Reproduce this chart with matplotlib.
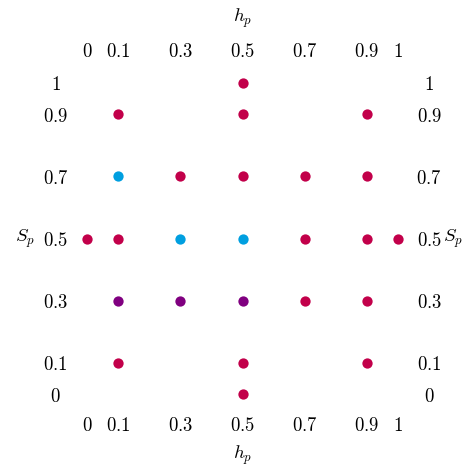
import matplotlib
matplotlib.use('Agg')
import matplotlib.pyplot as plt

plt.rcParams['mathtext.fontset'] = 'cm'

# grid points (h_p, S_p) grouped by colour
red_h = [0.5, 0.1, 0.5, 0.9, 0.3, 0.5, 0.7, 0.9, 0.0, 0.1, 0.7, 0.9, 1.0, 0.7, 0.9, 0.1, 0.5, 0.9, 0.5]
red_s = [1.0, 0.9, 0.9, 0.9, 0.7, 0.7, 0.7, 0.7, 0.5, 0.5, 0.5, 0.5, 0.5, 0.3, 0.3, 0.1, 0.1, 0.1, 0.0]
blue_h = [0.1, 0.3, 0.5]
blue_s = [0.7, 0.5, 0.5]
purple_h = [0.1, 0.3, 0.5]
purple_s = [0.3, 0.3, 0.3]

ticks = [0, 0.1, 0.3, 0.5, 0.7, 0.9, 1]
tick_labels = ['$0$', '$0.1$', '$0.3$', '$0.5$', '$0.7$', '$0.9$', '$1$']

W, H = 469, 467
FS = 13.5
fig = plt.figure(figsize=(W / 100, H / 100), dpi=100)
ax = fig.add_axes([87 / W, (H - 394) / H, (398 - 87) / W, (394 - 83) / H])

ax.scatter(red_h, red_s, s=55, color='#C2004A', linewidths=0, clip_on=False)
ax.scatter(blue_h, blue_s, s=55, color='#009FE0', linewidths=0, clip_on=False)
ax.scatter(purple_h, purple_s, s=55, color='#800080', linewidths=0, clip_on=False)

ax.set_xlim(0, 1)
ax.set_ylim(0, 1)
ax.set_xticks(ticks)
ax.set_xticklabels(tick_labels)
ax.set_yticks(ticks)
ax.set_yticklabels(tick_labels)
ax.tick_params(axis='both', length=0, labelsize=FS,
               top=True, bottom=True, left=True, right=True,
               labeltop=True, labelbottom=True, labelleft=True, labelright=True)
ax.tick_params(axis='x', pad=22.5)
ax.tick_params(axis='y', pad=22.5)

for t in ax.xaxis.get_major_ticks():
    t.label1.set_va('center')
    t.label2.set_va('center')
for t in ax.yaxis.get_major_ticks():
    t.label1.set_ha('center')
    t.label2.set_ha('center')

for side in ax.spines.values():
    side.set_visible(False)

ax.text(0.5, 1 + 65 / 311, '$h_p$', transform=ax.transAxes, ha='center', va='center', fontsize=FS)
ax.text(0.5, -61 / 311, '$h_p$', transform=ax.transAxes, ha='center', va='center', fontsize=FS)
ax.text(-62 / 311, 0.5, '$S_p$', transform=ax.transAxes, ha='center', va='center', fontsize=FS)
ax.text(1 + 45 / 311, 0.5, '$S_p$', transform=ax.transAxes, ha='left', va='center', fontsize=FS)

fig.savefig('out.png', dpi=100)
